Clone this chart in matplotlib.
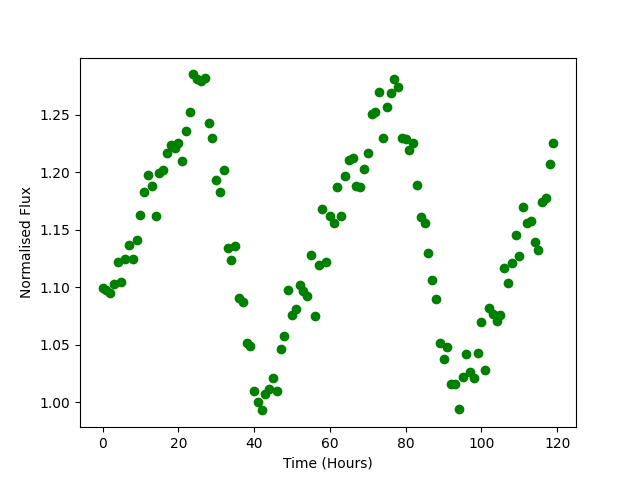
import matplotlib
matplotlib.use("Agg")
import matplotlib.pyplot as plt

# time in hours, one reading per hour
hours = list(range(120))

# normalised flux
flux = [
    1.099, 1.098, 1.095, 1.103, 1.122, 1.105, 1.125, 1.137, 1.125, 1.141,
    1.163, 1.183, 1.198, 1.188, 1.162, 1.199, 1.202, 1.217, 1.224, 1.221,
    1.225, 1.210, 1.236, 1.252, 1.285, 1.281, 1.279, 1.282, 1.243, 1.230,
    1.193, 1.183, 1.202, 1.134, 1.124, 1.136, 1.091, 1.087, 1.052, 1.049,
    1.010, 1.000, 0.993, 1.007, 1.012, 1.021, 1.010, 1.046, 1.058, 1.098,
    1.076, 1.081, 1.102, 1.097, 1.092, 1.128, 1.075, 1.119, 1.168, 1.122,
    1.162, 1.156, 1.187, 1.162, 1.197, 1.211, 1.212, 1.188, 1.187, 1.203,
    1.217, 1.251, 1.252, 1.270, 1.230, 1.257, 1.269, 1.281, 1.274, 1.230,
    1.229, 1.219, 1.225, 1.189, 1.161, 1.156, 1.130, 1.106, 1.090, 1.052,
    1.038, 1.048, 1.016, 1.016, 0.994, 1.022, 1.042, 1.026, 1.021, 1.043,
    1.070, 1.028, 1.082, 1.077, 1.071, 1.076, 1.117, 1.104, 1.121, 1.145,
    1.127, 1.170, 1.156, 1.158, 1.139, 1.132, 1.174, 1.178, 1.207, 1.225,
]

plt.figure(figsize=(6.4, 4.8), dpi=100)
plt.scatter(hours, flux, color='green')
plt.xlabel('Time (Hours)')
plt.ylabel('Normalised Flux')
plt.savefig('out.png')
